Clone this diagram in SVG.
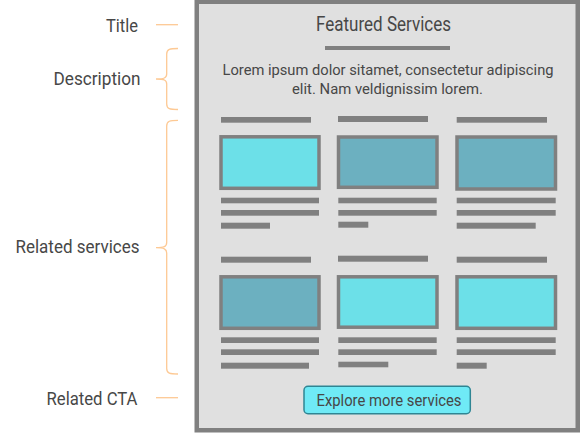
<svg xmlns="http://www.w3.org/2000/svg" width="580" height="434" viewBox="0 0 580 434">
<style>
.lbl{font-family:Roboto,"Liberation Sans",sans-serif;font-size:19px;fill:#474747;text-anchor:end}
.txt{font-family:Roboto,"Liberation Sans",sans-serif;fill:#474747;text-anchor:middle}
.bar{fill:#808080}
.img{stroke:#808080;stroke-width:3.5}
.lt{fill:#6ce0e8}
.dk{fill:#6cb0c0}
.conn{fill:none;stroke:#fdc994;stroke-width:1.3}
</style>
<rect width="580" height="434" fill="#ffffff"/>
<g id="frame">
<rect x="196.75" y="1.75" width="381" height="428.5" fill="#e0e0e0" stroke="#808080" stroke-width="4.5"/>
</g>
<g id="labels">
<text class="lbl" x="138" y="32" textLength="32" lengthAdjust="spacingAndGlyphs">Title</text>
<text class="lbl" x="140.5" y="85" textLength="87" lengthAdjust="spacingAndGlyphs">Description</text>
<text class="lbl" x="139.5" y="253" textLength="124" lengthAdjust="spacingAndGlyphs">Related services</text>
<text class="lbl" x="137.5" y="405" textLength="91" lengthAdjust="spacingAndGlyphs">Related CTA</text>
</g>
<g id="connectors">
<path class="conn" d="M156,24.7 H178"/>
<path class="conn" d="M178,48.5 C170,48.5 166.7,49 166.7,54 V74 C166.7,78 164,79 156,79 C164,79 166.7,80 166.7,84 V104 C166.7,109 170,109.5 178,109.5"/>
<path class="conn" d="M178,120.3 C170,120.3 166.7,121 166.7,126 V242.5 C166.7,246.5 164,247.7 156,247.7 C164,247.7 166.7,249 166.7,253 V368.5 C166.7,373.5 170,374 178,374"/>
<path class="conn" d="M156,397.7 H178"/>
</g>
<g id="title">
<text class="txt" x="383.5" y="30.5" font-size="20" textLength="135" lengthAdjust="spacingAndGlyphs">Featured Services</text>
<rect class="bar" x="325" y="46" width="125" height="4"/>
</g>
<g id="description">
<text class="txt" x="388" y="74.5" font-size="15.5" textLength="331" lengthAdjust="spacingAndGlyphs">Lorem ipsum dolor sitamet, consectetur adipiscing</text>
<text class="txt" x="387.5" y="93.5" font-size="15.5" textLength="191" lengthAdjust="spacingAndGlyphs">elit. Nam veldignissim lorem.</text>
</g>
<g id="service-1">
<rect class="bar" x="221" y="117" width="90" height="5.7"/>
<rect class="img lt" x="221" y="136.8" width="98" height="51.5"/>
<rect class="bar" x="221" y="197.7" width="98" height="5.6"/>
<rect class="bar" x="221" y="210" width="98" height="5.7"/>
<rect class="bar" x="221" y="222.7" width="49" height="6"/>
</g>
<g id="service-2">
<rect class="bar" x="338" y="116" width="90" height="6"/>
<rect class="img dk" x="338.5" y="137" width="98.5" height="50.3"/>
<rect class="bar" x="338.3" y="197.7" width="98.4" height="5.6"/>
<rect class="bar" x="338.3" y="210" width="98.4" height="5.7"/>
<rect class="bar" x="338.3" y="221.7" width="30" height="6"/>
</g>
<g id="service-3">
<rect class="bar" x="456.7" y="117" width="90.3" height="5.7"/>
<rect class="img dk" x="457" y="137" width="98.5" height="52"/>
<rect class="bar" x="456.7" y="197.7" width="99" height="5.6"/>
<rect class="bar" x="456.7" y="210" width="99" height="5.7"/>
<rect class="bar" x="456.7" y="222.7" width="79" height="6"/>
</g>
<g id="service-4">
<rect class="bar" x="221" y="256.7" width="90" height="6"/>
<rect class="img dk" x="221" y="276.8" width="98" height="51.5"/>
<rect class="bar" x="221" y="337.3" width="98" height="5.7"/>
<rect class="bar" x="221" y="349.3" width="98" height="5.7"/>
<rect class="bar" x="221" y="362.7" width="88" height="6"/>
</g>
<g id="service-5">
<rect class="bar" x="338" y="255.7" width="90" height="6"/>
<rect class="img lt" x="338.5" y="276.8" width="98.5" height="50.4"/>
<rect class="bar" x="338.3" y="337.3" width="98.4" height="5.7"/>
<rect class="bar" x="338.3" y="349.3" width="98.4" height="5.7"/>
<rect class="bar" x="338.3" y="361.7" width="50" height="5.6"/>
</g>
<g id="service-6">
<rect class="bar" x="456.7" y="256.7" width="90.3" height="6"/>
<rect class="img lt" x="457" y="276.8" width="98.5" height="51.5"/>
<rect class="bar" x="456.7" y="337.3" width="99" height="5.7"/>
<rect class="bar" x="456.7" y="349.3" width="99" height="5.7"/>
<rect class="bar" x="456.7" y="362.7" width="30" height="6"/>
</g>
<g id="cta">
<rect x="304" y="386.3" width="166.3" height="27.4" rx="4" fill="#6feaf6" stroke="#2f8593" stroke-width="1.5"/>
<text class="txt" x="389" y="405.5" font-size="16" fill="#3d4b52" textLength="145" lengthAdjust="spacingAndGlyphs">Explore more services</text>
</g>
</svg>
